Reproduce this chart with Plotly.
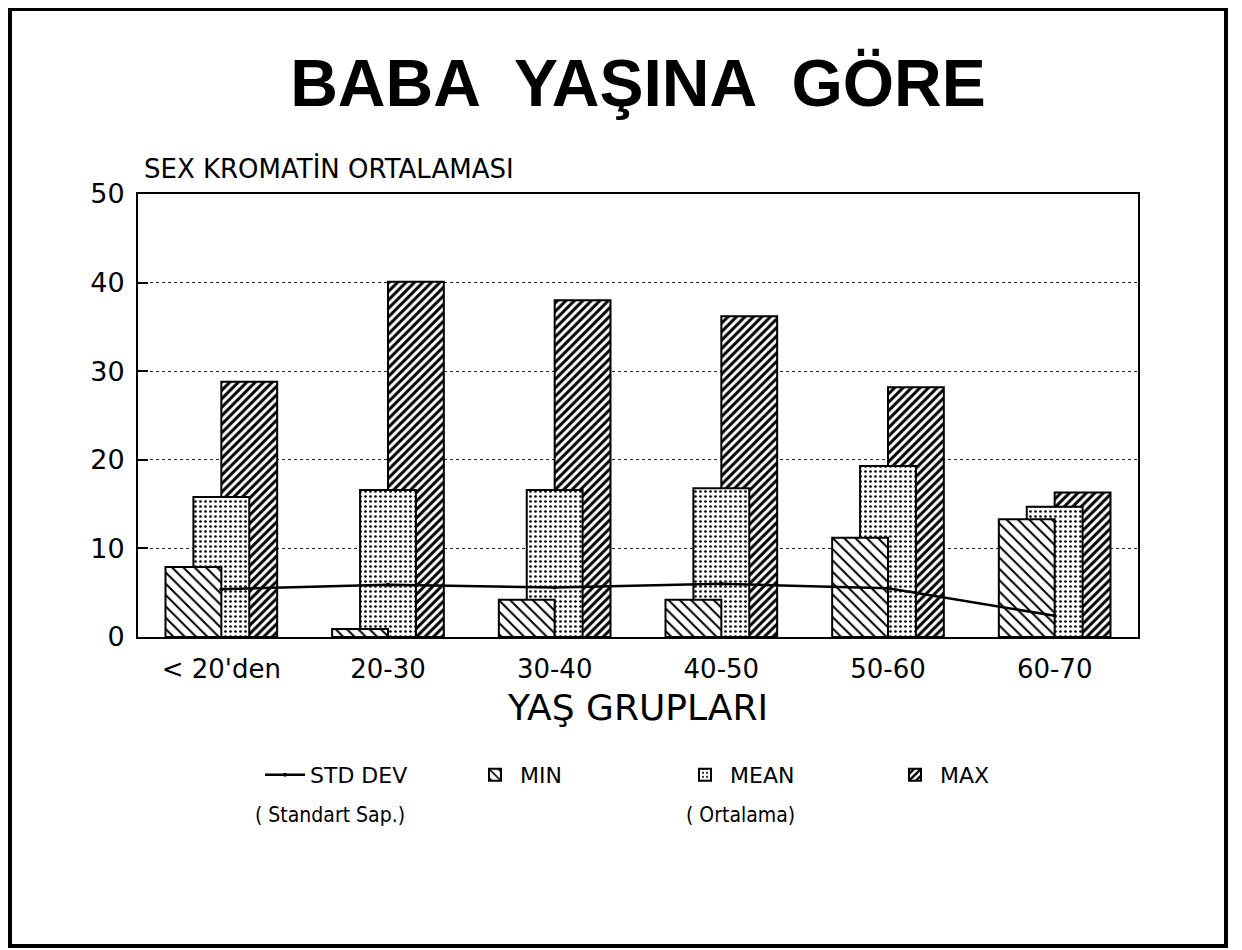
import plotly.graph_objects as go

categories = ["< 20'den", "20-30", "30-40", "40-50", "50-60", "60-70"]
min_vals = [7.9, 0.9, 4.2, 4.2, 11.2, 13.3]
mean_vals = [15.8, 16.6, 16.6, 16.8, 19.3, 14.7]
max_vals = [28.8, 40.1, 38.0, 36.2, 28.2, 16.3]
std_vals = [5.4, 5.9, 5.6, 6.0, 5.5, 2.4]
y_ticks = [0, 10, 20, 30, 40, 50]

FONT = "DejaVu Sans"
BW = 0.335

# page has an 8px body margin, so positions are laid out 8px up/left
L, T, PW, PH = 130, 186, 1000, 443


def px_x(x):
    return (x - L) / PW


def px_y(y):
    return 1 - (y - T) / PH


fig = go.Figure()
fig.add_trace(go.Bar(
    x=categories, y=max_vals, name="MAX", width=BW, offset=0, opacity=1,
    marker=dict(color="white", line=dict(color="black", width=2),
                pattern=dict(shape="/", size=6, solidity=0.5, fgcolor="black",
                             bgcolor="white", fgopacity=1)),
    legendrank=4,
))
fig.add_trace(go.Bar(
    x=categories, y=mean_vals, name="MEAN", width=BW, offset=-BW / 2, opacity=1,
    marker=dict(color="white", line=dict(color="black", width=2),
                pattern=dict(shape=".", size=5, solidity=0.22, fgcolor="black",
                             bgcolor="white", fgopacity=1)),
    legendrank=3,
))
fig.add_trace(go.Bar(
    x=categories, y=min_vals, name="MIN", width=BW, offset=-BW, opacity=1,
    marker=dict(color="white", line=dict(color="black", width=2),
                pattern=dict(shape="\\", size=8, solidity=0.25, fgcolor="black",
                             bgcolor="white", fgopacity=1)),
    legendrank=2,
))
fig.add_trace(go.Scatter(
    x=categories, y=std_vals, name="STD DEV", mode="lines+markers",
    line=dict(color="black", width=2.5), marker=dict(color="black", size=4),
    legendrank=1,
))

fig.update_layout(
    width=1242, height=950,
    paper_bgcolor="white", plot_bgcolor="white",
    barmode="overlay",
    margin=dict(l=L, r=1242 - L - PW, t=T, b=950 - T - PH),
    font=dict(family=FONT, color="black"),
    title=dict(text="<b>BABA  YAŞINA  GÖRE</b>", x=0.5, xref="paper", xanchor="center",
               y=1 - 75 / 950, yref="container", yanchor="middle",
               font=dict(family="Liberation Sans", size=66, color="black")),
    xaxis=dict(showline=True, linecolor="black", linewidth=2, mirror=True,
               showgrid=False, ticks="", tickfont=dict(size=26, family=FONT),
               ticklabelstandoff=8,
               title=dict(text="YAŞ GRUPLARI", font=dict(size=36, family=FONT), standoff=12)),
    yaxis=dict(range=[0, 50], tickvals=y_ticks, showline=True, linecolor="black", linewidth=2,
               mirror=True, showgrid=True, gridcolor="#222", griddash="dot", gridwidth=1,
               ticks="inside", ticklen=10, tickwidth=2, tickcolor="black",
               tickfont=dict(size=27, family=FONT), ticklabelstandoff=6, zeroline=False),
    legend=dict(orientation="h", x=px_x(252), xanchor="left", y=px_y(767), yanchor="middle",
                font=dict(size=22, family=FONT), entrywidth=155, itemwidth=40,
                traceorder="normal", bgcolor="rgba(0,0,0,0)"),
    shapes=[dict(type="rect", xref="paper", yref="paper",
                 x0=px_x(2), x1=px_x(1218), y0=px_y(938), y1=px_y(1),
                 line=dict(color="black", width=4), fillcolor="rgba(0,0,0,0)", layer="below")],
    annotations=[
        dict(text="SEX KROMATİN ORTALAMASI", x=px_x(134), xref="paper", xanchor="left",
             y=px_y(160), yref="paper", yanchor="middle", showarrow=False,
             font=dict(size=26, family=FONT)),
        dict(text="( Standart Sap.)", x=px_x(322), xref="paper", xanchor="center",
             y=px_y(807), yref="paper", yanchor="middle", showarrow=False,
             font=dict(size=21, family="DejaVu Sans Condensed")),
        dict(text="( Ortalama)", x=px_x(732), xref="paper", xanchor="center",
             y=px_y(807), yref="paper", yanchor="middle", showarrow=False,
             font=dict(size=21, family="DejaVu Sans Condensed")),
    ],
)

fig.write_html("out.html")
